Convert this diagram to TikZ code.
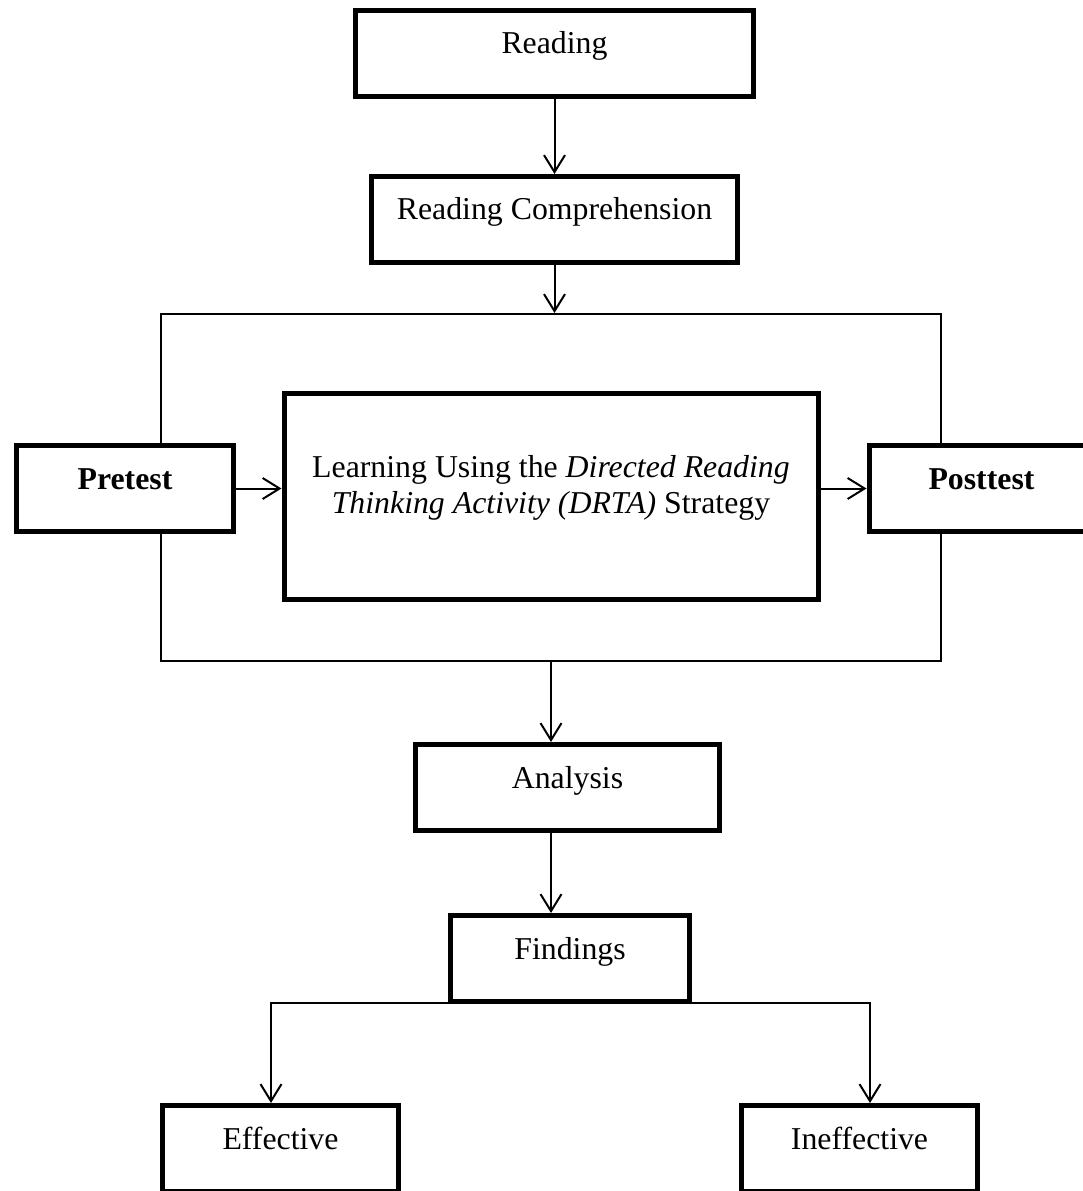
\documentclass[tikz,border=0pt]{standalone}
\usepackage{fontspec}
\setmainfont{Liberation Serif}
\usetikzlibrary{arrows.meta,positioning}
\tikzset{
    %Define standard arrow tip
    >={Straight Barb[length=0.34cm,width=0.42cm]},
    %Define style for boxes
    block/.style={
           rectangle,
           draw=black,
           fill=white,
           line width=0.1cm,
           inner xsep=0pt,
           inner ysep=0pt,
           text height=0.87cm,
           text depth=0.85cm,
           align=center},
    % Define style for the thin frame round the treatment
    wrapper/.style={
           rectangle,
           draw=black,
           line width=0.04cm,
           minimum width=15.60cm,
           minimum height=6.94cm},
    % Define arrow style
    arrow/.style={
           ->,
           line width=0.04cm,
           }
}
\begin{document}
\begin{tikzpicture}[font=\fontsize{18.1pt}{20.6pt}\selectfont]
    \useasboundingbox (0,0) rectangle (21.64,-23.82);
    \node [block, minimum width=7.96cm] (reading) at (11.09,-1.07) {Reading};
    \node [block, minimum width=7.32cm, below=1.5cm of reading] (comprehension) {Reading Comprehension};
    \node [wrapper, below=0.96cm of comprehension, xshift=-0.07cm] (treatment) {};
    \node [block, minimum width=10.68cm, text height=2.40cm, text depth=1.72cm,
           below=1.56cm of treatment.north] (drta)
          {Learning Using the \textit{Directed Reading}\\ \textit{Thinking Activity (DRTA)} Strategy};
    \node [block, minimum width=4.32cm, left=0.92cm of drta, yshift=0.16cm] (pretest) {\textbf{Pretest}};
    \node [block, minimum width=4.50cm, right=0.92cm of drta, yshift=0.16cm] (posttest) {\textbf{Posttest}};
    \node [block, minimum width=6.08cm, below=1.6cm of treatment, xshift=0.33cm] (analysis) {Analysis};
    \node [block, minimum width=4.78cm, below=1.6cm of analysis, xshift=0.05cm] (findings) {Findings};
    \node [block, minimum width=4.72cm, below=1.98cm of findings, xshift=-5.79cm] (effective) {Effective};
    \node [block, minimum width=4.72cm, below=1.98cm of findings, xshift=5.79cm] (ineffective) {Ineffective};

	\path[->] (reading) edge[arrow] (comprehension);
	\draw[arrow] (comprehension.south) -- (comprehension.south |- treatment.north);
	\draw[arrow] (pretest.east) -- (pretest.east -| drta.west);
	\draw[arrow] (drta.east |- posttest.west) -- (posttest.west);
	\draw[arrow] (treatment.south) -- (treatment.south |- analysis.north);
	\draw[arrow] (analysis.south -| treatment.south) -- (findings.north -| treatment.south);
	\draw[arrow] ([yshift=0.03cm]findings.south west) -| ([xshift=-0.19cm]effective.north);
	\draw[arrow] ([yshift=0.03cm]findings.south east) -| ([xshift=0.21cm]ineffective.north);
\end{tikzpicture}
\end{document}
